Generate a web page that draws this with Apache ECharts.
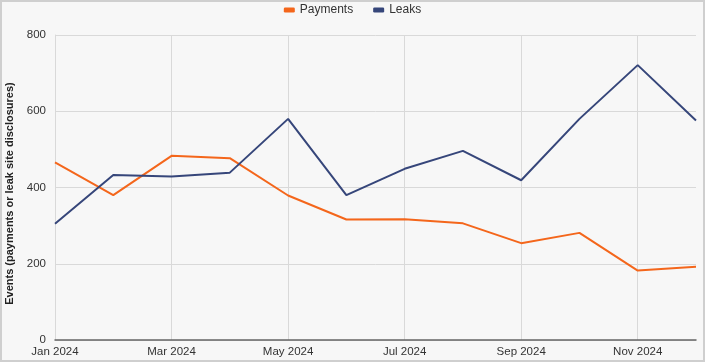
<!DOCTYPE html>
<html>
<head>
<meta charset="utf-8">
<script src="https://cdn.jsdelivr.net/npm/echarts@6/dist/echarts.min.js"></script>
<style>
html,body{margin:0;padding:0;background:#f7f7f7;}
#chart{position:absolute;left:0;top:0;width:705px;height:362px;}
#frame{position:absolute;left:0;top:0;width:705px;height:362px;box-sizing:border-box;border:2px solid #cfcfcf;pointer-events:none;}
</style>
</head>
<body>
<div id="chart"></div>
<div id="frame"></div>
<script>
const months = ["Jan 2024","Feb 2024","Mar 2024","Apr 2024","May 2024","Jun 2024","Jul 2024","Aug 2024","Sep 2024","Oct 2024","Nov 2024","Dec 2024"];
const payments = [466, 380, 483, 477, 379, 316, 317, 306, 254, 281, 182, 192];
const leaks = [305, 433, 429, 439, 580, 380, 449, 496, 419, 580, 721, 576];
const yTicks = [0, 200, 400, 600, 800];

const FONT = '"Liberation Sans", Arial, sans-serif';
const chart = echarts.init(document.getElementById('chart'), null, {renderer:'canvas'});
chart.setOption({
  backgroundColor: '#f7f7f7',
  animation: false,
  legend: {
    top: 4, left: 'center', padding: 0,
    itemWidth: 11, itemHeight: 5, itemGap: 20,
    icon: 'roundRect',
    textStyle: {fontFamily: FONT, fontSize: 12, color: '#333'},
    data: ['Payments', 'Leaks']
  },
  grid: {left: 55, right: 9, top: 35, bottom: 22, containLabel: false, outerBoundsMode: 'none'},
  xAxis: {
    type: 'category',
    data: months,
    boundaryGap: false,
    axisLine: {show: true, lineStyle: {color: '#666', width: 1.5}},
    axisTick: {show: false},
    axisLabel: {interval: 1, color: '#333', fontSize: 11.5, fontFamily: FONT, margin: 6},
    splitLine: {show: true, interval: 1, lineStyle: {color: '#d9d9d9', width: 1}}
  },
  yAxis: {
    type: 'value',
    min: yTicks[0], max: yTicks[yTicks.length - 1], interval: 200,
    name: 'Events (payments or leak site disclosures)',
    nameLocation: 'middle', nameGap: 39, nameRotate: 90,
    nameTextStyle: {fontWeight: 'bold', fontSize: 11, color: '#222', fontFamily: FONT, padding: [0, 12, 0, 0]},
    axisLine: {show: true, lineStyle: {color: '#d9d9d9'}},
    axisTick: {show: false},
    axisLabel: {color: '#333', fontSize: 11.5, fontFamily: FONT, margin: 9},
    splitLine: {show: true, lineStyle: {color: '#d9d9d9', width: 1}}
  },
  series: [
    {name: 'Payments', type: 'line', data: payments, symbol: 'none',
     itemStyle: {color: '#f4661b'}, lineStyle: {color: '#f4661b', width: 2}},
    {name: 'Leaks', type: 'line', data: leaks, symbol: 'none',
     itemStyle: {color: '#36467a'}, lineStyle: {color: '#36467a', width: 2}}
  ]
});
</script>
</body>
</html>
